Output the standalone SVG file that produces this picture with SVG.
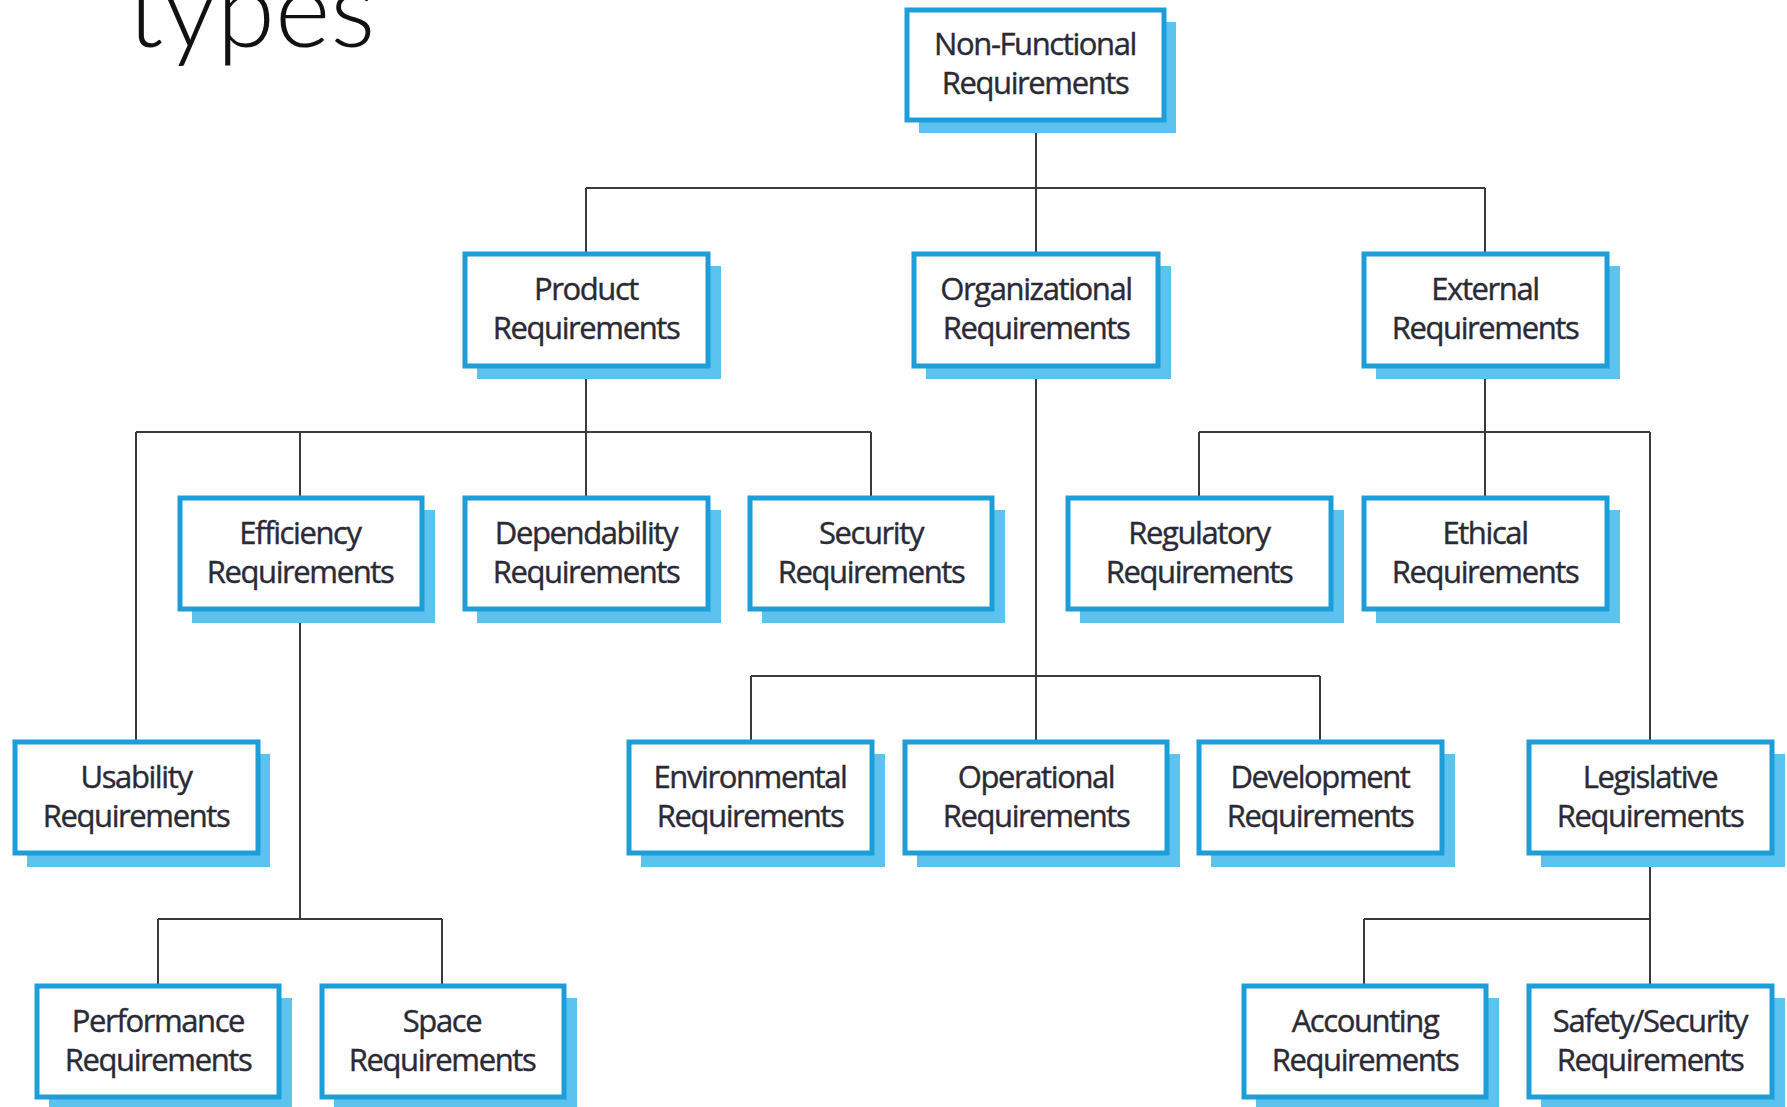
<svg xmlns="http://www.w3.org/2000/svg" width="1787" height="1107" viewBox="0 0 1787 1107">
<style>
.sh{fill:#5cc3ef}
.bx{fill:#fff;stroke:#1d9ed9;stroke-width:5}
.t{font-family:"Open Sans","Liberation Sans",sans-serif;font-size:31px;fill:#2a2a36;text-anchor:middle;letter-spacing:-1.4px;stroke:#2a2a36;stroke-width:0.4px}
.c{stroke:#3a3a3a;stroke-width:2;fill:none}
</style>
<rect width="1787" height="1107" fill="#fff"/>
<text x="127" y="47" font-family="Lato,'Open Sans',sans-serif" font-weight="300" font-size="106" fill="#111">types</text>
<g id="connectors">
<path class="c" d="M1036 120V253M586 188H1485M586 188V253M1485 188V253"/>
<path class="c" d="M586 366V497M136 432H871M136 432V740M300 432V497M871 432V497"/>
<path class="c" d="M1036 366V740M751 676H1320M751 676V740M1320 676V740"/>
<path class="c" d="M1485 366V497M1199 432H1650M1199 432V497M1650 432V740"/>
<path class="c" d="M300 609V919M158 919H442M158 919V985M442 919V985"/>
<path class="c" d="M1650 853V985M1364 919H1650M1364 919V985"/>
</g>
<g id="n-nonfunctional"><rect class="sh" x="919" y="22" width="257" height="111"/><rect class="bx" x="907" y="10" width="257" height="110"/><text class="t" x="1035" y="55">Non-Functional</text><text class="t" x="1035" y="94">Requirements</text></g>
<g id="n-product"><rect class="sh" x="477" y="266" width="244" height="113"/><rect class="bx" x="465" y="254" width="243" height="112"/><text class="t" x="586" y="300">Product</text><text class="t" x="586" y="339">Requirements</text></g>
<g id="n-organizational"><rect class="sh" x="926" y="266" width="245" height="113"/><rect class="bx" x="914" y="254" width="244" height="112"/><text class="t" x="1036" y="300">Organizational</text><text class="t" x="1036" y="339">Requirements</text></g>
<g id="n-external"><rect class="sh" x="1376" y="266" width="244" height="113"/><rect class="bx" x="1364" y="254" width="243" height="112"/><text class="t" x="1485" y="300">External</text><text class="t" x="1485" y="339">Requirements</text></g>
<g id="n-efficiency"><rect class="sh" x="192" y="510" width="243" height="113"/><rect class="bx" x="180" y="498" width="242" height="111"/><text class="t" x="300" y="544">Efficiency</text><text class="t" x="300" y="583">Requirements</text></g>
<g id="n-dependability"><rect class="sh" x="477" y="510" width="244" height="113"/><rect class="bx" x="465" y="498" width="243" height="111"/><text class="t" x="586" y="544">Dependability</text><text class="t" x="586" y="583">Requirements</text></g>
<g id="n-security"><rect class="sh" x="762" y="510" width="243" height="113"/><rect class="bx" x="750" y="498" width="242" height="111"/><text class="t" x="871" y="544">Security</text><text class="t" x="871" y="583">Requirements</text></g>
<g id="n-regulatory"><rect class="sh" x="1080" y="510" width="264" height="113"/><rect class="bx" x="1068" y="498" width="263" height="111"/><text class="t" x="1199" y="544">Regulatory</text><text class="t" x="1199" y="583">Requirements</text></g>
<g id="n-ethical"><rect class="sh" x="1376" y="510" width="244" height="113"/><rect class="bx" x="1364" y="498" width="243" height="111"/><text class="t" x="1485" y="544">Ethical</text><text class="t" x="1485" y="583">Requirements</text></g>
<g id="n-usability"><rect class="sh" x="27" y="754" width="243" height="113"/><rect class="bx" x="15" y="742" width="243" height="111"/><text class="t" x="136" y="788">Usability</text><text class="t" x="136" y="827">Requirements</text></g>
<g id="n-environmental"><rect class="sh" x="641" y="754" width="244" height="113"/><rect class="bx" x="629" y="742" width="243" height="111"/><text class="t" x="750" y="788">Environmental</text><text class="t" x="750" y="827">Requirements</text></g>
<g id="n-operational"><rect class="sh" x="917" y="754" width="263" height="113"/><rect class="bx" x="905" y="742" width="262" height="111"/><text class="t" x="1036" y="788">Operational</text><text class="t" x="1036" y="827">Requirements</text></g>
<g id="n-development"><rect class="sh" x="1211" y="754" width="244" height="113"/><rect class="bx" x="1199" y="742" width="243" height="111"/><text class="t" x="1320" y="788">Development</text><text class="t" x="1320" y="827">Requirements</text></g>
<g id="n-legislative"><rect class="sh" x="1541" y="754" width="244" height="113"/><rect class="bx" x="1529" y="742" width="243" height="111"/><text class="t" x="1650" y="788">Legislative</text><text class="t" x="1650" y="827">Requirements</text></g>
<g id="n-performance"><rect class="sh" x="49" y="998" width="243" height="113"/><rect class="bx" x="37" y="986" width="242" height="111"/><text class="t" x="158" y="1032">Performance</text><text class="t" x="158" y="1071">Requirements</text></g>
<g id="n-space"><rect class="sh" x="334" y="998" width="243" height="113"/><rect class="bx" x="322" y="986" width="242" height="111"/><text class="t" x="442" y="1032">Space</text><text class="t" x="442" y="1071">Requirements</text></g>
<g id="n-accounting"><rect class="sh" x="1256" y="998" width="243" height="113"/><rect class="bx" x="1244" y="986" width="242" height="111"/><text class="t" x="1365" y="1032">Accounting</text><text class="t" x="1365" y="1071">Requirements</text></g>
<g id="n-safety"><rect class="sh" x="1541" y="998" width="244" height="113"/><rect class="bx" x="1529" y="986" width="243" height="111"/><text class="t" x="1650" y="1032">Safety/Security</text><text class="t" x="1650" y="1071">Requirements</text></g>
</svg>
